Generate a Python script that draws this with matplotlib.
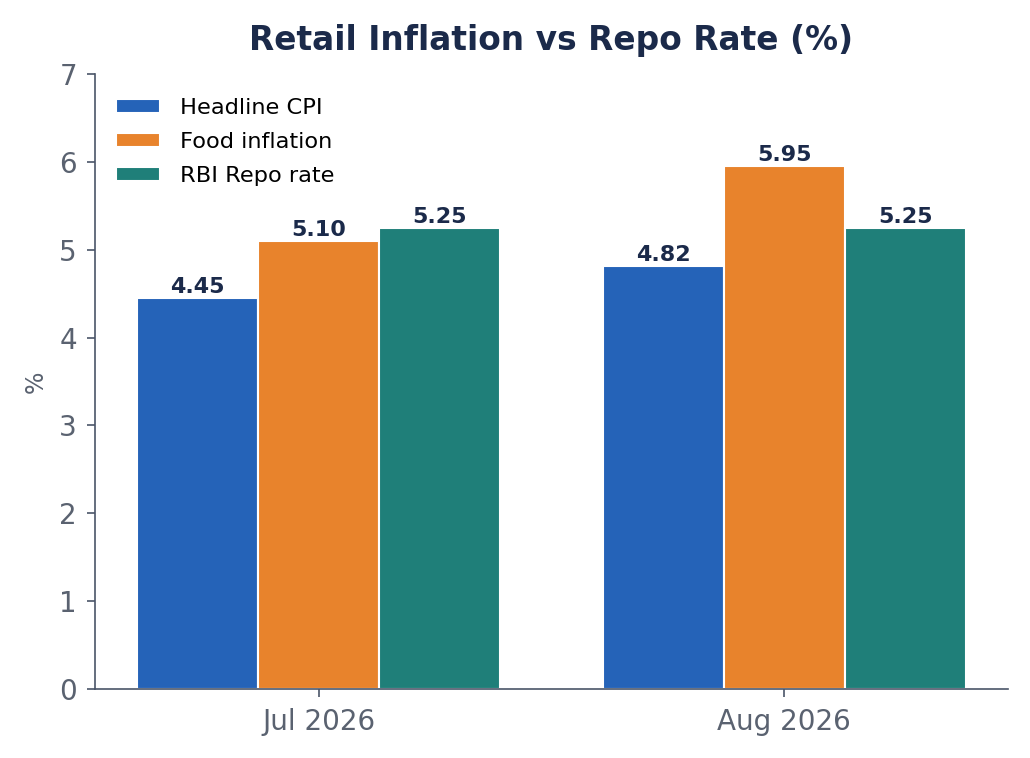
import matplotlib
matplotlib.use("Agg")
import matplotlib.pyplot as plt
import numpy as np

categories = ["Jul 2026", "Aug 2026"]
series_names = ["Headline CPI", "Food inflation", "RBI Repo rate"]
headline_cpi = [4.45, 4.82]
food_inflation = [5.10, 5.95]
repo_rate = [5.25, 5.25]
colors = ["#2563B8", "#E8832C", "#1F7F79"]

fig = plt.figure(figsize=(10.3, 7.58), dpi=100)
ax = fig.add_axes([0.0922, 0.091, 0.8864, 0.8114])

x = np.arange(len(categories))
width = 0.26
offsets = [-width, 0, width]
navy = "#1B2A4A"
gray = "#5A6270"

for vals, name, col, off in zip([headline_cpi, food_inflation, repo_rate], series_names, colors, offsets):
    bars = ax.bar(x + off, vals, width, color=col, edgecolor="white", linewidth=1.5, label=name)
    for b, v in zip(bars, vals):
        ax.text(b.get_x() + b.get_width() / 2, v + 0.01, f"{v:.2f}", ha="center", va="bottom",
                fontsize=16, fontweight="bold", color=navy)

ax.set_xlim(-0.48, 1.48)
ax.set_ylim(0, 7)
ax.set_xticks(x)
ax.set_xticklabels(categories)
ax.set_yticks(range(0, 8))
ax.tick_params(axis="both", colors="#4A5568", labelcolor=gray, labelsize=20, length=6, width=1.2)
ax.tick_params(axis="x", pad=7.5)
ax.tick_params(axis="y", pad=7)
ax.set_ylabel("%", color=gray, fontsize=17, labelpad=8)
for s in ["top", "right"]:
    ax.spines[s].set_visible(False)
for s in ["left", "bottom"]:
    ax.spines[s].set_color("#4A5568")
    ax.spines[s].set_linewidth(1.2)

ax.set_title("Retail Inflation vs Repo Rate (%)", fontsize=23.7, fontweight="bold", color=navy, pad=17.5)
leg = ax.legend(loc="upper left", bbox_to_anchor=(0.001, 0.9935), frameon=False, fontsize=16.2,
                handlelength=1.95, handleheight=0.6, handletextpad=0.9, labelspacing=0.61,
                borderaxespad=0.5)

fig.savefig("out.png", dpi=100)
